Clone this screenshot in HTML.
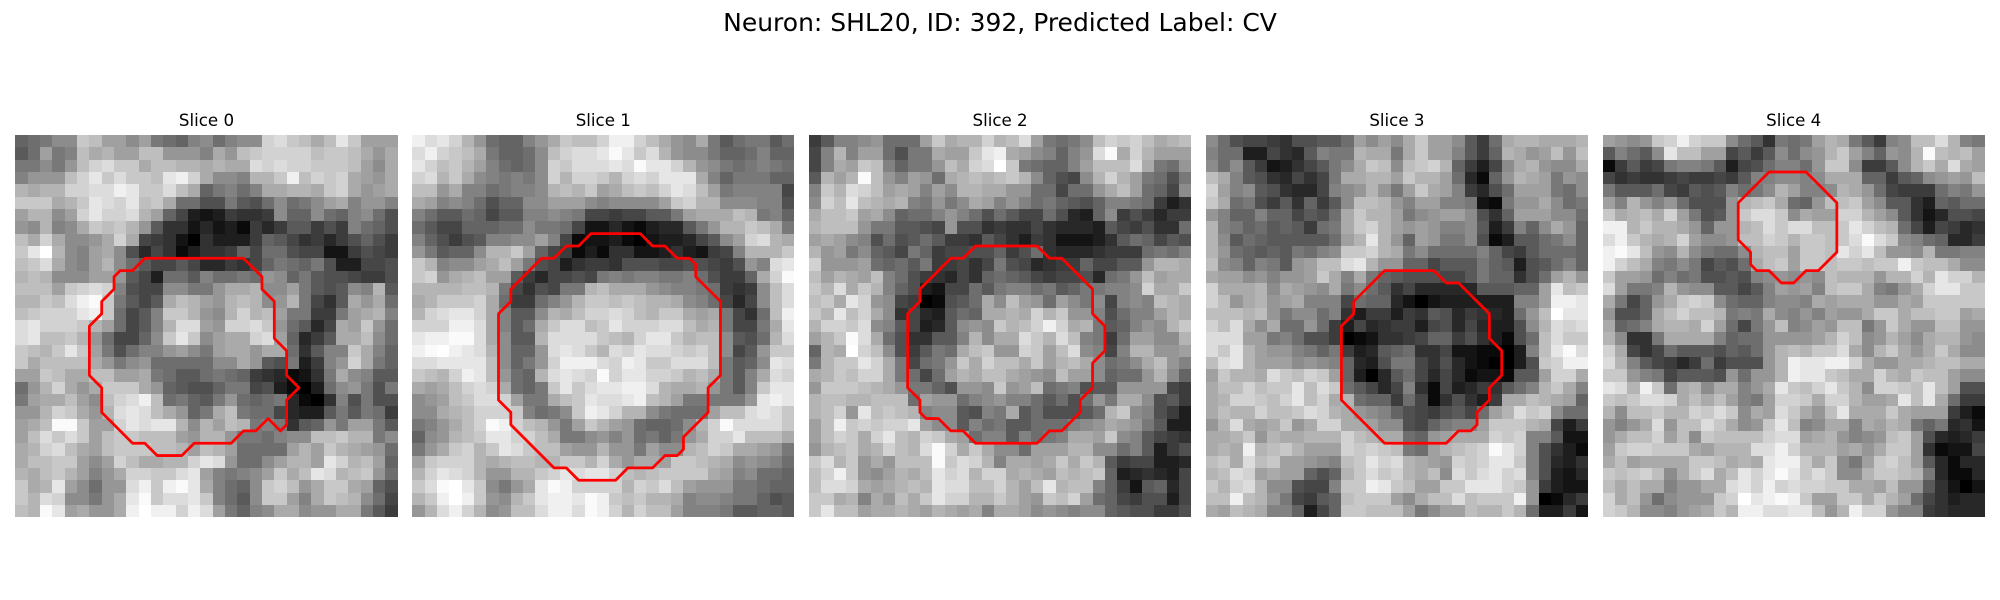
<!DOCTYPE html>
<html lang="en">
<head>
<meta charset="utf-8">
<title>Neuron: SHL20, ID: 392, Predicted Label: CV</title>
<style>
html,body{margin:0;padding:0;background:#fff;width:2000px;height:600px;overflow:hidden}
svg{display:block}
text{font-family:"DejaVu Sans","Liberation Sans",sans-serif;fill:#000}
</style>
</head>
<body>
<svg id="figure" xmlns="http://www.w3.org/2000/svg" width="2000" height="600" viewBox="0 0 2000 600">
<rect x="0" y="0" width="2000" height="600" fill="#ffffff"/>
<text x="1000" y="31" font-size="25" text-anchor="middle">Neuron: SHL20, ID: 392, Predicted Label: CV</text>
</svg>
<script>
const sliceTitles = ["Slice 0","Slice 1","Slice 2","Slice 3","Slice 4"];
/* Cell intensities, row by row (0 = black, 25.5 = white). */
const slice0 = [
[10,11,12,14,14,20,19,16,16,14,16,12,11,10,13,14,11,13,14,14,21,22,20,19,17,19,23,20,16,16,16],
[9,11,16,12,13,19,17,18,16,16,19,19,15,15,15,13,17,15,19,20,21,21,21,21,19,20,20,19,17,15,17],
[12,12,14,12,15,19,21,22,20,20,17,19,19,18,18,17,18,17,17,22,21,22,21,21,20,20,20,19,16,14,17],
[13,15,15,15,19,21,23,20,22,20,20,19,23,24,21,17,14,14,13,18,18,20,24,19,21,20,21,17,16,15,17],
[18,17,18,18,21,21,22,22,24,23,20,20,22,19,17,10,12,13,11,13,17,17,18,18,17,20,21,17,15,16,17],
[20,20,20,17,18,20,23,22,21,23,19,20,17,11,11,8,8,12,9,8,11,14,11,12,14,16,17,13,15,15,13],
[16,18,18,14,16,21,23,21,21,22,18,16,10,7,3,2,3,6,5,5,6,14,10,10,14,11,10,13,14,11,8],
[15,14,18,13,14,17,20,19,20,18,15,9,5,5,2,4,2,3,1,6,4,6,9,9,6,8,6,13,11,10,8],
[19,17,21,17,14,14,15,17,21,17,7,6,5,2,0,5,3,3,3,6,10,9,7,5,6,4,6,8,10,8,6],
[20,23,26,18,14,13,16,17,14,8,4,7,5,1,3,5,5,6,10,7,11,11,8,7,7,2,2,6,8,7,6],
[19,20,22,17,14,13,16,18,14,11,9,7,7,9,7,4,4,6,5,7,10,12,11,10,12,8,3,3,7,7,8],
[18,19,18,14,14,14,16,16,15,9,7,3,11,11,9,13,11,11,12,11,15,14,10,12,9,8,8,7,6,6,8],
[19,19,19,16,20,21,22,21,13,8,7,7,14,14,12,12,15,17,17,18,14,14,16,12,9,8,9,14,13,18,9],
[18,18,20,19,22,24,25,20,12,9,7,9,17,19,18,16,15,18,19,18,14,15,18,12,7,5,9,17,15,17,11],
[19,20,21,21,21,23,24,20,11,7,9,13,20,20,18,15,14,18,21,18,19,16,12,12,6,6,12,16,17,18,13],
[22,23,21,21,21,20,18,16,11,7,9,13,18,22,22,16,15,21,21,22,20,15,11,9,4,7,17,16,20,15,11],
[22,23,19,19,20,18,15,11,7,7,10,14,20,23,20,14,16,17,17,21,22,16,10,4,6,9,17,17,19,14,11],
[20,19,18,20,23,20,16,12,8,11,13,13,15,16,14,12,16,17,17,15,17,17,11,5,9,13,13,20,17,13,10],
[20,17,19,19,19,19,17,15,12,14,15,11,11,11,11,11,14,14,17,15,9,8,12,3,6,13,15,21,17,12,10],
[16,16,20,19,17,17,19,19,16,16,17,12,11,9,9,11,12,11,10,6,5,4,1,2,5,12,17,14,13,9,9],
[11,15,18,21,17,15,17,20,20,20,17,15,10,9,8,8,10,12,12,7,8,3,1,0,3,11,14,15,12,8,12],
[12,16,17,17,19,16,14,19,21,22,24,19,11,12,10,9,12,15,11,10,11,12,4,1,0,5,13,8,12,8,8],
[15,15,18,21,20,17,15,18,22,23,22,19,17,15,10,12,17,19,12,11,11,7,4,3,3,9,12,9,12,11,6],
[16,17,19,25,25,20,16,16,21,23,22,23,23,18,14,18,16,19,18,12,13,12,5,9,10,15,12,16,16,12,9],
[16,19,22,20,22,20,16,19,20,20,19,19,19,16,15,18,18,15,12,12,11,13,14,14,19,19,20,18,18,12,14],
[17,18,21,22,19,17,16,19,20,20,20,19,19,18,16,19,18,16,11,11,11,11,16,18,16,20,18,17,16,15,11],
[17,19,19,20,20,16,14,16,21,19,17,17,18,18,21,23,22,15,11,11,14,16,18,18,16,23,21,18,19,16,10],
[18,17,19,20,18,16,13,15,17,21,21,20,20,22,23,16,13,12,13,14,16,20,17,19,23,22,18,19,20,15,11],
[20,17,18,23,16,14,11,15,15,22,24,20,24,25,23,17,13,11,10,14,20,21,19,15,17,20,20,17,16,10,8],
[20,18,22,21,14,14,12,15,17,23,25,20,22,22,23,20,13,11,9,14,20,20,16,13,17,20,19,18,14,11,7],
[19,18,25,23,16,17,15,15,17,24,26,24,24,21,24,22,16,12,10,13,14,17,17,14,15,15,17,17,12,9,6]
];
const slice1 = [
[24,22,23,21,18,15,11,10,10,13,15,17,20,19,19,21,24,24,21,19,17,15,14,17,12,9,11,12,12,9,11],
[22,24,21,20,19,17,12,10,10,11,14,19,21,22,22,23,25,23,20,22,18,15,14,14,12,10,10,11,13,10,10],
[23,21,19,20,18,16,13,11,10,11,14,21,20,22,22,22,23,22,25,23,23,21,18,15,14,12,11,12,13,12,11],
[21,22,18,20,17,14,13,12,13,12,14,21,18,21,21,20,18,21,22,21,23,23,23,17,13,10,12,12,12,10,10],
[19,19,15,17,13,13,11,12,13,13,14,18,19,18,20,16,17,19,20,19,21,23,22,19,16,12,13,13,13,13,7],
[17,16,13,14,13,11,8,10,10,14,14,16,16,16,14,13,14,14,14,14,16,20,21,18,18,14,14,14,13,13,8],
[13,11,9,9,11,10,7,9,9,13,13,14,13,12,7,7,6,7,7,9,9,12,16,17,17,17,19,18,12,13,10],
[11,9,7,7,10,10,10,11,11,14,12,12,11,7,2,2,4,2,1,3,4,4,9,12,15,18,18,20,19,17,12],
[13,10,8,6,8,9,13,13,14,14,16,13,7,1,2,2,3,1,0,2,3,3,4,7,9,14,16,21,22,18,17],
[15,12,9,10,10,14,18,18,20,16,10,7,6,1,3,1,5,5,2,2,3,5,3,2,6,7,13,18,18,18,20],
[20,18,13,14,14,16,17,19,16,12,8,7,3,5,6,6,5,8,8,8,7,7,8,8,7,6,8,15,13,22,23],
[20,21,15,17,18,19,16,16,9,6,4,7,7,8,7,12,13,12,13,13,12,12,13,11,8,6,6,10,17,21,25],
[18,18,18,18,19,19,18,12,7,5,8,7,12,12,18,19,17,17,17,15,14,13,13,12,11,6,5,6,14,19,22],
[17,18,20,20,20,21,17,11,6,6,11,13,15,18,20,20,19,20,19,18,18,17,14,13,11,7,4,7,14,19,22],
[18,21,22,23,23,21,17,13,9,9,14,18,17,19,21,21,22,21,19,18,20,20,17,16,17,12,7,5,11,19,24],
[21,21,21,24,24,22,17,13,9,11,17,20,22,22,19,20,23,21,21,21,22,22,19,17,18,12,7,7,12,17,23],
[23,24,24,25,25,22,17,14,9,9,18,22,22,22,22,20,19,18,21,23,23,20,18,19,19,14,9,8,11,18,22],
[24,25,26,24,23,22,18,14,10,10,15,22,23,22,20,18,22,21,23,22,22,21,20,21,19,14,7,9,15,20,20],
[22,22,23,23,23,23,19,14,10,12,15,21,24,24,24,22,21,24,23,20,20,22,22,22,19,12,9,10,14,23,22],
[20,19,18,21,24,23,19,15,11,10,18,22,23,22,21,25,21,23,23,21,21,20,18,19,17,12,9,13,17,22,21],
[17,16,17,19,21,22,21,17,11,10,12,20,23,20,22,23,23,24,24,22,18,17,17,18,15,12,9,13,20,23,23],
[14,15,16,19,20,22,22,21,16,12,12,17,19,20,23,22,22,23,24,19,18,16,12,12,12,12,12,15,23,24,23],
[14,14,17,18,19,21,21,21,20,13,11,12,14,20,24,23,21,18,18,14,12,11,11,11,16,19,19,22,23,22,20],
[12,13,15,17,19,21,25,24,21,19,18,15,12,16,20,18,16,15,11,10,10,11,14,18,21,25,22,22,22,22,20],
[10,14,15,18,19,20,23,23,21,21,19,17,12,12,14,15,13,15,11,12,10,12,15,17,21,21,23,19,19,19,17],
[12,15,17,20,21,18,20,23,22,20,19,19,16,15,15,18,15,15,12,16,14,14,18,19,21,20,17,17,16,15,12],
[16,20,21,21,21,18,17,18,19,19,18,18,20,20,18,21,17,15,17,17,16,20,20,19,18,17,14,15,14,13,11],
[18,21,23,22,21,18,15,15,18,18,20,21,23,22,23,23,21,19,18,19,20,20,20,20,17,16,13,14,11,11,10],
[20,22,25,26,23,20,14,12,15,17,23,25,24,21,21,21,21,18,21,20,22,19,16,15,15,15,12,12,11,10,10],
[18,20,24,26,24,20,15,14,18,20,23,24,24,23,25,24,20,19,20,18,18,17,13,14,14,13,12,12,10,8,9],
[15,18,22,24,21,18,14,15,19,19,22,24,24,22,25,24,21,18,21,19,19,16,13,13,13,12,9,9,10,10,9]
];
const slice2 = [
[6,9,13,13,14,15,11,11,11,16,20,17,18,18,21,18,19,22,16,12,11,12,14,19,21,20,21,19,17,18,19],
[7,13,18,13,16,16,11,8,12,12,17,16,16,20,23,24,17,16,14,13,10,13,15,22,25,17,21,18,16,16,16],
[7,13,17,16,20,19,13,10,12,12,15,19,17,21,22,26,20,12,11,10,10,13,16,19,19,19,22,17,12,11,15],
[9,18,16,18,25,19,15,13,16,15,11,17,18,19,18,19,20,18,14,10,8,7,14,18,21,18,16,12,11,8,12],
[13,20,18,22,21,19,16,17,16,13,16,14,18,18,17,17,15,15,11,11,7,11,11,15,17,19,16,11,10,7,14],
[14,21,19,23,19,18,17,18,13,12,15,12,14,17,16,13,15,13,11,12,10,9,8,10,13,13,12,11,6,3,5],
[17,19,19,20,16,17,14,10,11,11,13,15,13,11,8,11,9,7,7,11,8,4,3,10,14,6,8,6,4,6,6],
[18,19,19,19,15,12,12,9,9,8,7,15,8,8,5,6,5,5,7,5,4,4,4,3,9,7,6,8,5,5,11],
[16,17,16,14,13,8,11,8,9,11,9,6,6,5,9,7,5,3,6,5,2,2,2,3,5,9,11,10,7,9,8],
[18,15,16,12,14,10,9,7,12,10,6,7,7,8,8,10,6,8,11,5,4,4,4,5,6,6,6,11,12,11,13],
[21,15,15,15,16,11,10,11,9,12,6,6,7,5,7,12,8,7,4,5,6,6,10,7,7,9,9,15,18,18,17],
[19,16,18,17,16,19,13,11,8,6,5,4,7,5,10,11,10,9,7,6,7,7,8,4,11,12,15,19,16,17,17],
[20,18,22,17,20,18,13,10,8,3,2,7,7,11,9,12,13,13,11,12,9,10,12,12,13,13,14,21,17,17,20],
[19,20,17,23,21,15,14,7,6,0,1,8,9,11,17,14,19,16,15,11,16,14,12,14,7,13,14,13,19,18,17],
[20,18,23,19,21,17,14,5,7,4,3,9,11,10,17,17,18,17,21,18,20,15,15,13,8,11,13,13,16,18,17],
[18,21,21,20,22,14,13,9,7,3,4,9,14,15,14,20,18,19,21,24,21,17,18,12,9,10,13,15,14,18,20],
[16,18,20,25,22,17,11,8,5,5,9,9,13,18,14,17,17,22,20,18,22,19,13,12,6,11,16,16,14,14,18],
[10,18,17,26,21,19,14,8,6,9,12,11,17,19,20,15,15,21,20,16,19,22,14,13,7,13,18,18,15,15,16],
[12,18,20,20,23,21,17,12,7,11,12,15,20,17,21,19,19,17,20,16,18,19,17,14,11,12,14,17,19,15,13],
[17,18,20,19,21,21,17,12,11,7,11,16,18,17,19,19,17,16,15,14,19,16,16,14,10,11,11,15,18,14,10],
[15,20,20,20,19,18,17,15,12,12,10,8,15,15,14,20,15,16,19,11,12,13,8,9,9,15,15,15,15,7,6],
[18,19,19,18,18,19,19,19,11,16,15,15,11,13,14,15,13,13,11,9,11,8,11,15,12,17,17,14,8,9,6],
[18,19,21,15,23,19,20,19,18,13,14,14,9,8,13,12,17,9,11,8,8,8,9,11,18,20,14,13,8,6,3],
[16,19,24,20,21,20,21,21,23,16,14,14,9,13,11,12,9,9,11,11,11,13,14,15,17,16,15,12,9,3,3],
[16,19,21,20,17,21,23,19,18,21,20,17,16,11,13,13,9,13,11,12,13,17,17,16,20,14,13,9,7,6,5],
[15,18,19,20,17,18,21,19,18,22,25,21,17,20,17,14,14,11,16,16,16,18,18,14,14,11,13,9,3,6,8],
[20,22,18,20,15,17,15,19,19,19,25,20,22,21,18,13,17,17,16,17,20,17,20,18,9,6,7,7,3,3,4],
[19,21,24,20,15,14,16,18,17,19,23,21,22,18,21,21,17,18,17,16,19,18,19,20,10,3,4,5,4,3,7],
[19,22,22,21,17,16,17,18,19,18,23,22,22,19,19,21,18,16,19,23,18,19,19,13,10,6,2,9,10,4,7],
[20,20,17,18,13,17,15,19,17,20,23,21,21,18,18,20,18,16,15,20,19,21,16,11,10,7,6,8,8,3,7],
[20,23,19,19,16,17,17,18,17,16,18,17,16,17,13,17,17,16,14,15,14,13,14,14,10,9,8,8,6,6,8]
];
const slice3 = [
[14,11,8,7,7,6,5,8,8,9,9,11,16,14,16,14,17,20,16,16,14,9,6,11,17,18,18,17,17,17,18],
[13,11,11,3,3,7,5,4,9,13,12,12,18,17,17,12,17,20,16,16,13,9,6,10,18,17,15,16,19,15,19],
[14,11,14,9,6,2,3,5,7,9,12,14,17,20,19,14,19,20,21,18,10,6,3,7,14,17,18,15,14,14,17],
[19,17,13,9,8,5,4,7,5,7,12,17,17,18,18,16,20,18,18,16,11,4,1,10,15,18,17,16,12,15,14],
[21,16,13,14,9,8,5,4,4,7,13,14,15,18,15,12,16,20,17,16,13,6,4,8,11,16,16,16,12,11,14],
[20,17,11,12,8,6,9,5,10,6,9,14,19,19,18,15,13,16,16,13,13,12,2,1,12,15,15,17,14,11,12],
[15,13,10,10,13,10,10,7,9,8,11,17,20,18,18,16,12,14,15,16,16,14,8,5,10,16,16,16,14,14,11],
[18,13,12,10,11,9,10,9,6,11,12,17,20,21,18,16,15,16,15,13,13,14,9,3,6,13,10,14,17,15,10],
[18,14,9,11,10,9,9,9,9,9,11,16,18,23,18,15,10,16,15,12,12,14,8,1,3,9,9,11,12,14,10],
[18,15,11,10,9,10,9,12,11,13,14,20,20,21,18,17,12,14,11,11,11,11,13,10,7,6,9,11,11,11,10],
[19,14,13,10,13,12,9,15,16,19,19,22,23,18,15,15,10,10,7,9,9,9,12,10,9,3,8,9,11,13,10],
[17,16,16,14,15,13,15,15,16,20,17,13,17,12,10,9,8,8,8,7,7,9,12,10,10,5,8,11,16,18,15],
[21,17,17,17,18,14,17,16,15,14,17,12,14,11,9,5,7,4,4,4,4,4,9,9,9,10,10,16,23,19,20],
[21,19,15,17,18,15,16,17,13,13,13,7,11,10,10,4,2,0,2,3,3,3,3,3,3,13,13,16,24,24,23],
[19,19,19,18,19,15,12,14,14,11,13,5,3,6,6,3,6,5,9,8,4,6,5,4,3,11,15,19,26,23,23],
[21,19,22,17,14,17,11,11,15,11,6,3,7,4,5,6,6,3,7,8,4,7,4,3,3,8,14,18,22,21,22],
[22,22,22,16,16,12,13,11,8,8,6,0,1,2,5,5,6,7,10,10,6,8,5,3,1,8,11,19,22,20,20],
[22,20,23,18,16,15,15,13,12,10,12,6,3,4,9,10,11,5,5,7,2,2,1,1,0,3,13,19,23,25,22],
[19,22,23,18,16,16,16,14,15,14,13,10,4,3,8,12,12,7,5,8,4,2,1,0,0,3,8,20,21,24,24],
[16,20,18,18,17,22,20,19,21,20,16,10,3,0,4,9,11,7,4,7,4,1,2,2,1,9,9,16,21,21,17],
[17,19,19,21,19,20,20,23,19,22,20,11,9,7,4,7,13,5,1,7,3,4,6,5,9,11,13,18,20,17,13],
[17,18,21,21,20,19,21,23,19,21,17,18,11,10,10,6,11,7,1,5,8,5,3,6,17,17,19,18,17,16,10],
[17,19,18,18,21,19,19,20,22,21,18,17,15,14,13,10,8,7,6,8,9,7,11,16,18,22,20,21,14,11,11],
[15,18,22,17,16,17,20,15,17,21,21,17,17,16,14,14,8,7,10,12,13,13,16,20,20,20,18,17,7,3,6],
[17,17,18,20,15,18,17,17,18,18,18,21,19,18,17,17,11,10,15,16,17,17,17,21,20,21,13,13,9,2,2],
[17,18,17,24,18,19,20,18,16,16,16,21,20,21,20,19,12,11,16,18,19,20,21,25,23,21,13,8,5,3,1],
[19,20,17,22,19,20,16,16,15,14,13,19,20,23,21,22,18,17,16,15,21,20,21,23,23,20,13,8,4,3,5],
[18,19,22,21,16,17,16,16,10,8,10,18,20,22,20,21,18,17,19,14,22,20,22,23,21,22,13,8,3,2,4],
[20,18,21,22,18,14,14,8,7,7,13,20,20,24,23,20,19,16,16,20,20,23,23,23,21,20,15,6,3,2,2],
[19,19,24,19,18,15,12,7,6,9,10,19,20,20,20,16,14,17,19,19,22,19,20,20,20,24,15,0,1,4,6],
[17,16,19,18,17,13,13,10,3,7,10,20,20,19,19,19,16,12,14,16,16,19,18,18,20,18,11,3,3,6,2]
];
const slice4 = [
[16,15,14,15,20,21,24,21,20,20,14,11,9,5,12,11,12,16,18,17,12,9,6,13,14,19,19,22,18,13,12],
[9,13,11,9,14,23,19,19,16,16,7,9,6,9,14,11,14,15,18,20,16,13,10,15,14,18,25,19,18,19,16],
[1,6,9,6,7,12,13,13,12,9,3,7,8,11,13,13,11,15,20,20,14,6,6,9,14,18,20,17,22,17,16],
[7,5,6,5,5,6,7,6,6,7,6,9,13,13,14,14,13,14,17,17,17,10,10,6,9,10,14,15,16,15,19],
[12,9,9,9,11,7,6,9,8,9,13,11,12,14,18,16,13,13,14,18,17,15,11,7,6,6,6,11,13,12,15],
[16,13,18,15,13,15,11,8,8,8,15,18,19,20,17,11,10,15,19,19,20,16,14,9,9,5,3,10,9,11,11],
[20,17,18,19,17,21,16,12,8,9,15,20,22,22,20,14,17,16,16,21,21,18,16,14,9,5,2,4,8,8,7],
[24,24,18,20,18,18,17,15,10,15,15,18,19,22,20,22,22,19,19,20,23,21,19,18,11,7,3,7,6,4,5],
[22,24,20,18,17,18,21,16,14,14,15,19,19,21,20,18,20,20,19,20,22,25,22,20,14,13,11,10,4,4,6],
[24,25,23,19,15,14,18,14,12,11,11,14,18,19,19,16,20,20,19,23,21,23,19,15,15,14,18,12,12,13,13],
[24,21,19,17,13,12,14,12,7,9,8,11,17,19,20,16,20,20,19,20,20,19,20,20,24,20,19,19,17,14,14],
[20,16,16,15,11,13,11,12,8,8,9,8,13,14,15,14,15,14,19,18,18,18,15,18,18,21,18,23,21,21,18],
[22,16,12,12,13,18,15,14,14,9,9,7,9,13,16,15,16,13,19,20,20,17,13,12,15,17,21,23,23,20,20],
[17,12,7,10,15,17,20,21,20,14,11,10,10,13,14,14,13,17,16,17,17,17,15,15,17,16,20,20,20,20,20],
[15,8,8,10,17,19,21,19,19,18,12,13,12,17,14,13,15,13,16,15,15,17,20,20,17,19,19,20,20,16,17],
[17,10,11,13,17,18,18,17,21,16,11,7,12,15,19,13,14,16,15,19,19,12,15,20,17,15,15,19,19,15,15],
[18,14,5,5,12,17,17,17,17,13,10,11,11,15,15,15,15,16,18,21,19,14,15,18,16,14,17,18,18,15,14],
[21,17,7,5,7,11,9,9,9,8,10,9,11,15,18,19,18,20,20,22,17,14,18,20,17,15,17,20,17,14,14],
[22,18,13,9,7,6,4,6,11,6,8,8,8,15,18,24,23,23,24,24,21,17,15,15,17,17,18,19,19,17,17],
[20,20,15,13,12,7,9,9,9,8,15,11,15,15,18,24,23,23,20,19,17,17,21,18,17,20,19,19,16,14,14],
[23,22,18,24,20,11,17,18,14,17,17,13,15,17,23,20,19,21,23,20,18,14,21,21,20,19,23,19,16,8,8],
[20,19,20,22,22,21,17,19,17,19,16,13,12,16,21,21,20,17,21,21,18,16,16,17,23,19,23,17,11,6,6],
[18,14,19,19,20,18,18,21,20,22,20,14,17,16,22,20,17,15,19,23,17,17,17,20,17,16,16,16,6,3,1],
[15,13,15,17,22,15,19,19,22,20,17,14,15,20,23,19,13,14,17,17,13,17,16,18,17,12,10,12,4,5,2],
[15,17,19,19,21,16,19,14,20,19,19,19,19,21,22,22,16,17,18,15,13,14,15,19,20,16,8,4,3,4,6],
[16,20,21,21,20,20,20,17,16,18,18,18,22,22,24,21,18,18,18,16,17,15,17,20,20,16,5,1,2,2,7],
[17,19,16,17,17,17,17,20,20,19,17,18,17,23,24,24,20,17,20,14,12,16,20,21,19,16,9,4,1,4,4],
[20,19,20,21,19,14,17,20,22,17,19,23,21,23,25,23,20,22,20,14,14,18,20,20,19,18,12,4,1,1,4],
[19,17,19,17,17,13,15,15,17,17,22,23,21,24,21,22,21,21,20,20,17,17,16,19,15,15,9,5,2,0,2],
[21,17,19,15,11,14,15,15,15,20,21,26,23,24,25,24,20,16,16,20,20,17,20,18,16,11,7,5,3,4,4],
[21,20,18,14,14,13,15,16,17,20,18,24,24,22,22,23,23,19,15,18,24,21,21,15,13,13,6,5,4,4,4]
];
const slices = [slice0, slice1, slice2, slice3, slice4];

/* Segmentation contours, [column, row] in cell units. */
const contour0 = [[10.5,10],[18.5,10],[20,11.5],[20,12.5],[21,13.5],[21,16.5],[22,17.5],[22,19.5],[23,20.5],[22,21.5],[22,23.5],[21.5,24],[20.5,23],[19.5,24],[18.5,24],[17.5,25],[14.5,25],[13.5,26],[11.5,26],[10.5,25],[9.5,25],[7,22.5],[7,20.5],[6,19.5],[6,15.5],[7,14.5],[7,13.5],[8,12.5],[8,11.5],[8.5,11],[9.5,11]];
const contour1 = [[14.5,8],[18.5,8],[19.5,9],[20.5,9],[21.5,10],[22.5,10],[23,10.5],[23,11.5],[25,13.5],[25,19.5],[24,20.5],[24,22.5],[22,24.5],[22,25.5],[21.5,26],[20.5,26],[19.5,27],[17.5,27],[16.5,28],[13.5,28],[12.5,27],[11.5,27],[8,23.5],[8,22.5],[7,21.5],[7,14.5],[8,13.5],[8,12.5],[10.5,10],[11.5,10],[12.5,9],[13.5,9]];
const contour2 = [[13.5,9],[18.5,9],[19.5,10],[20.5,10],[23,12.5],[23,14.5],[24,15.5],[24,17.5],[23,18.5],[23,20.5],[22,21.5],[22,22.5],[20.5,24],[19.5,24],[18.5,25],[13.5,25],[12.5,24],[11.5,24],[10.5,23],[9.5,23],[9,22.5],[9,21.5],[8,20.5],[8,14.5],[9,13.5],[9,12.5],[11.5,10],[12.5,10]];
const contour3 = [[14.5,11],[18.5,11],[19.5,12],[20.5,12],[23,14.5],[23,16.5],[24,17.5],[24,19.5],[23,20.5],[23,21.5],[22,22.5],[22,23.5],[21.5,24],[20.5,24],[19.5,25],[14.5,25],[11,21.5],[11,15.5],[12,14.5],[12,13.5]];
const contour4 = [[13.5,3],[16.5,3],[19,5.5],[19,9.5],[17.5,11],[16.5,11],[15.5,12],[14.5,12],[13.5,11],[12.5,11],[12,10.5],[12,9.5],[11,8.5],[11,5.5]];
const contours = [contour0, contour1, contour2, contour3, contour4];

const SVG_NS = "http://www.w3.org/2000/svg";
const figure = document.getElementById("figure");
const GRID = 31, PANEL_SIZE = 382.2, PANEL_STEP = 396.8, PANEL_LEFT = 15.4, PANEL_TOP = 135;

function xAxis(panel, column) { return PANEL_LEFT + panel * PANEL_STEP + column * PANEL_SIZE / GRID; }
function yAxis(row) { return PANEL_TOP + row * PANEL_SIZE / GRID; }
function grayScale(value) {
  const g = Math.max(0, Math.min(255, Math.round(value * 10)));
  return "rgb(" + g + "," + g + "," + g + ")";
}

slices.forEach(function (cells, panel) {
  const group = document.createElementNS(SVG_NS, "g");
  
  
  figure.appendChild(group);

  const title = document.createElementNS(SVG_NS, "text");
  
  
  title.setAttribute("x", xAxis(panel, GRID / 2));
  title.setAttribute("y", 126);
  title.setAttribute("font-size", "16.67");
  title.setAttribute("text-anchor", "middle");
  title.textContent = sliceTitles[panel];
  group.appendChild(title);

  const heatmap = document.createElementNS(SVG_NS, "g");
  
  
  heatmap.setAttribute("shape-rendering", "crispEdges");
  group.appendChild(heatmap);

  cells.forEach(function (rowValues, row) {
    rowValues.forEach(function (value, column) {
      const cell = document.createElementNS(SVG_NS, "rect");
      
      
      const x0 = Math.round(xAxis(panel, column));
      const x1 = Math.round(xAxis(panel, column + 1));
      const y0 = Math.round(yAxis(row));
      const y1 = Math.round(yAxis(row + 1));
      cell.setAttribute("x", x0);
      cell.setAttribute("y", y0);
      cell.setAttribute("width", x1 - x0);
      cell.setAttribute("height", y1 - y0);
      cell.setAttribute("fill", grayScale(value));
      heatmap.appendChild(cell);
    });
  });

  const outline = document.createElementNS(SVG_NS, "polygon");
  
  
  outline.setAttribute("points", contours[panel].map(function (p) {
    return xAxis(panel, p[0]).toFixed(2) + "," + yAxis(p[1]).toFixed(2);
  }).join(" "));
  outline.setAttribute("fill", "none");
  outline.setAttribute("stroke", "#ff0000");
  outline.setAttribute("stroke-width", "2.78");
  outline.setAttribute("stroke-linejoin", "round");
  group.appendChild(outline);
});
</script>
</body>
</html>
